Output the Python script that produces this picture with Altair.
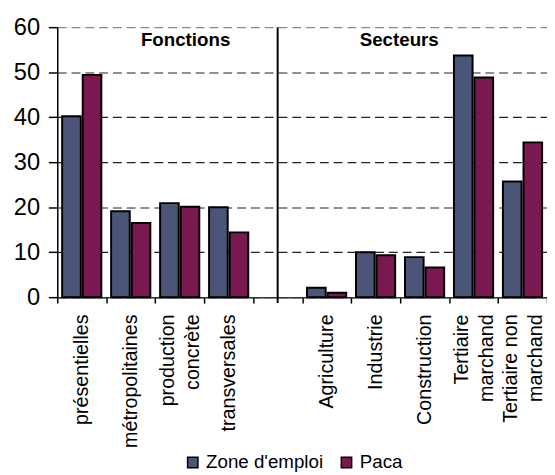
import altair as alt
import pandas as pd

# ---- data ----
categories = ["présentielles", "métropolitaines", "production|concrète", "transversales", " ",
              "Agriculture", "Industrie", "Construction", "Tertiaire|marchand", "Tertiaire non|marchand"]
zone_emploi = [40.2, 19.1, 20.9, 20.0, None, 2.1, 10.0, 8.9, 53.7, 25.7]
paca = [49.4, 16.5, 20.1, 14.4, None, 1.0, 9.3, 6.6, 48.8, 34.4]
series = ["Zone d'emploi", "Paca"]
colors = ["#4A5577", "#7A1850"]
y_ticks = [0, 10, 20, 30, 40, 50, 60]
section_labels = ["Fonctions", "Secteurs"]
section_anchor = ["production|concrète", "Industrie"]
divider_cat = [" "]

FONT = "Liberation Sans"

rows = []
for c, z, p in zip(categories, zone_emploi, paca):
    if z is not None:
        rows.append({"cat": c, "series": series[0], "value": z})
    if p is not None:
        rows.append({"cat": c, "series": series[1], "value": p})
df = pd.DataFrame(rows)

x_scale = alt.Scale(domain=categories, paddingInner=0, paddingOuter=0)

bars = alt.Chart(df).mark_bar(stroke="black", strokeWidth=2).encode(
    x=alt.X("cat:N", scale=x_scale, sort=categories, title=None,
            axis=alt.Axis(labelAngle=270, labelExpr="split(datum.label, '|')",
                          labelFontSize=20, labelFont=FONT, labelColor="black",
                          labelLineHeight=25, labelPadding=11, labelLimit=300,
                          labelOffset=alt.condition("indexof(datum.label, '|') >= 0",
                                                    alt.value(-12), alt.value(0)),
                          tickBand="extent", tickSize=6, tickColor="black", tickWidth=1.5,
                          domainColor="#333", domainWidth=1.5, grid=False)),
    xOffset=alt.XOffset("series:N", sort=series,
                        scale=alt.Scale(domain=series, paddingInner=0.095, paddingOuter=0.238)),
    y=alt.Y("value:Q", title=None,
            scale=alt.Scale(domain=[0, 60], nice=False, zero=True),
            axis=alt.Axis(values=y_ticks, labelFontSize=24, labelFont=FONT, labelColor="black",
                          labelPadding=9, tickSize=9, tickColor="black", tickWidth=1.5,
                          domainColor="black", domainWidth=1.5,
                          grid=True, gridDash=[9, 5], gridWidth=1.2,
                          gridColor=alt.condition(alt.datum.value == 60, alt.value("#8a8a8a"), alt.value("#222222")))),
    color=alt.Color("series:N", sort=series,
                    scale=alt.Scale(domain=series, range=colors),
                    legend=alt.Legend(title=None, orient="none", direction="horizontal",
                                      legendX=128, legendY=432, padding=0,
                                      symbolType="square", symbolSize=110,
                                      symbolStrokeColor="black", symbolStrokeWidth=1.5,
                                      labelFontSize=19, labelFont=FONT, labelColor="black",
                                      labelOffset=4, columnPadding=14)),
)

divider = alt.Chart(pd.DataFrame({"cat": divider_cat})).mark_rule(color="black", strokeWidth=2).encode(
    x=alt.X("cat:N", scale=x_scale, sort=categories),
    y=alt.value(0),
    y2=alt.value(280),
)

sec_df = pd.DataFrame({"cat": section_anchor, "label": section_labels, "y": [57.2, 57.2]})
fonctions = alt.Chart(sec_df.iloc[[0]]).mark_text(
    font=FONT, fontSize=19, fontWeight="bold", color="black", baseline="middle", dx=6
).encode(x=alt.X("cat:N", scale=x_scale, sort=categories), y="y:Q", text="label:N")
secteurs = alt.Chart(sec_df.iloc[[1]]).mark_text(
    font=FONT, fontSize=19, fontWeight="bold", color="black", baseline="middle", dx=24
).encode(x=alt.X("cat:N", scale=x_scale, sort=categories), y="y:Q", text="label:N")

chart = alt.layer(bars, divider, fonctions, secteurs).properties(
    width=497, height=274,
    autosize=alt.AutoSizeParams(type="none"),
    padding={"left": 50, "top": 16, "right": 0, "bottom": 177},
    background="white",
).configure_view(stroke=None)

chart.save("out.html", embed_options={"renderer": "svg", "actions": False})
